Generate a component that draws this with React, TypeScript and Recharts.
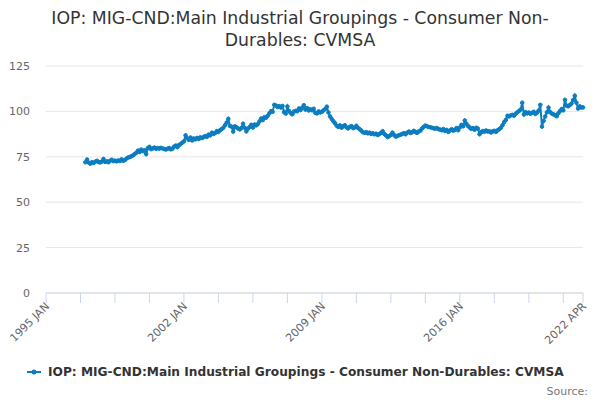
import { LineChart, Line, XAxis, YAxis, CartesianGrid } from 'recharts'

// monthly index: 0 = 1995 JAN
const startMonth = 24 // 1997 JAN
const values = [
  // 1997
  72.0, 73.5, 71.8, 71.2, 72.0, 71.6, 72.3, 72.8, 72.1, 71.9, 72.4, 73.8,
  // 1998
  72.2, 72.5, 72.0, 72.8, 73.4, 72.6, 72.9, 72.5, 73.0, 72.7, 73.6, 72.8,
  // 1999
  73.2, 74.0, 74.6, 74.9, 75.3, 75.8, 76.5, 77.2, 78.4, 77.6, 79.0, 78.1,
  // 2000
  78.6, 76.5, 79.8, 80.5, 79.2, 79.6, 80.1, 79.4, 79.8, 79.5, 79.9, 79.6,
  // 2001
  79.3, 79.0, 79.4, 79.8, 79.1, 79.5, 80.6, 81.2, 80.3, 81.5, 82.0, 82.8,
  // 2002
  83.5, 86.8, 85.2, 84.3, 85.6, 84.0, 85.1, 84.6, 85.4, 84.8, 85.7, 85.3,
  // 2003
  85.9, 86.4, 86.0, 87.2, 86.8, 88.3, 87.6, 88.1, 89.2, 88.7, 89.6, 90.3,
  // 2004
  91.0, 92.4, 93.8, 95.9, 92.0, 91.6, 88.9, 91.8, 91.2, 90.6, 90.1, 90.9,
  // 2005
  93.2, 91.0, 89.0, 90.5, 91.4, 92.6, 91.1, 92.8, 92.3, 93.0, 94.5, 96.1,
  // 2006
  95.2, 96.8, 96.5, 97.6, 98.9, 100.1, 99.8, 103.6, 103.2, 102.4, 102.9, 102.1,
  // 2007
  103.0, 99.6, 98.8, 102.7, 100.2, 99.1, 98.4, 99.9, 100.3, 100.1, 101.6, 100.8,
  // 2008
  102.0, 103.4, 101.0, 101.8, 100.5, 101.2, 100.6, 101.5, 99.2, 98.9, 100.0, 99.4,
  // 2009
  99.8, 100.6, 101.3, 102.6, 99.4, 97.2, 95.8, 94.6, 93.5, 92.1, 91.4, 92.3,
  // 2010
  91.0, 91.8, 92.4, 91.2, 90.6, 91.5, 91.9, 90.8, 91.2, 92.1, 90.9, 90.2,
  // 2011
  89.4, 88.5, 88.2, 88.6, 87.9, 88.3, 87.6, 88.0, 87.4, 87.7, 87.0, 87.5,
  // 2012
  88.2, 89.1, 87.6, 86.8, 85.9, 86.4, 87.1, 88.3, 87.0, 86.1, 86.5, 86.9,
  // 2013
  87.2, 87.6, 88.0, 87.4, 88.3, 88.9, 88.1, 88.5, 89.3, 88.6, 88.2, 89.0,
  // 2014
  89.4, 90.6, 91.5, 92.2, 91.8, 91.4, 91.3, 91.0, 90.7, 90.5, 90.9, 90.2,
  // 2015
  90.0, 89.6, 90.3, 89.2, 89.8, 88.7, 89.5, 90.2, 89.4, 89.9, 90.8, 89.6,
  // 2016
  91.2, 92.6, 91.8, 95.0, 93.2, 92.0, 91.1, 90.4, 90.8, 89.9, 91.0, 90.5,
  // 2017
  87.4, 88.6, 89.2, 88.8, 89.5, 88.9, 89.1, 88.4, 89.0, 89.3, 88.7, 89.6,
  // 2018
  90.2, 91.0, 92.4, 94.1, 95.3, 97.6, 97.2, 97.8, 98.1, 97.6, 98.7, 99.5,
  // 2019
  100.2, 101.0, 104.8, 98.3, 99.6, 98.9, 99.4, 98.7, 99.2, 99.8, 98.6, 99.3,
  // 2020
  100.4, 103.6, 91.6, 94.8, 97.2, 99.5, 102.1, 99.6, 98.8, 98.4, 97.9, 97.3,
  // 2021
  99.0, 100.2, 101.3, 100.6, 106.4, 103.1, 102.8, 103.5, 104.3, 106.2, 108.6, 104.8,
  // 2022
  101.6, 102.8, 102.1, 102.2,
]

const xTicks = [0, 21, 42, 63, 84, 105, 126, 147, 168, 189, 210, 231, 252, 273, 294, 315, 327]
const xLabels: Record<number, string> = { 0: '1995 JAN', 84: '2002 JAN', 168: '2009 JAN', 252: '2016 JAN', 327: '2022 APR' }
const yTicks = [0, 25, 50, 75, 100, 125]

const seriesName = 'IOP: MIG-CND:Main Industrial Groupings - Consumer Non-Durables: CVMSA'
const color = '#0b7dc0'

const data = values.map((v, i) => ({ m: startMonth + i, v }))

function XTick({ x, y, payload }: any) {
  const label = xLabels[payload.value]
  if (!label) return null
  const tx = x + 4
  const ty = y + 2
  return (
    <text x={tx} y={ty} transform={`rotate(-45 ${tx} ${ty})`} textAnchor="end" fill="#666" fontSize={11}>
      {label}
    </text>
  )
}

export default function App() {
  return (
    <div style={{ position: 'absolute', left: 0, top: 0, width: 600, height: 400, background: '#fff', fontFamily: '"DejaVu Sans", sans-serif' }}>
      <div style={{ position: 'absolute', top: 7, left: 0, width: 600, textAlign: 'center', fontSize: 17.3, lineHeight: '22px', color: '#333' }}>
        IOP: MIG-CND:Main Industrial Groupings - Consumer Non-
        <br />
        Durables: CVMSA
      </div>
      <LineChart width={600} height={400} data={data} margin={{ top: 66, right: 17, left: 0, bottom: 57 }}>
        <CartesianGrid vertical={false} stroke="#e6e6e6" />
        <XAxis
          dataKey="m"
          type="number"
          domain={[0, 327]}
          ticks={xTicks}
          interval={0}
          height={50}
          stroke="#ccd6eb"
          tickSize={10}
          tick={<XTick />}
        />
        <YAxis
          domain={[0, 125]}
          ticks={yTicks}
          width={46}
          axisLine={false}
          tickLine={false}
          tickSize={0}
          tickMargin={16}
          tick={{ fill: '#666', fontSize: 11 }}
        />
        <Line
          dataKey="v"
          stroke={color}
          strokeWidth={2}
          dot={{ r: 1.8, fill: color, stroke: color, strokeWidth: 1 }}
          isAnimationActive={false}
        />
      </LineChart>
      <div style={{ position: 'absolute', top: 365, left: 27, display: 'flex', alignItems: 'center', fontSize: 12.2, fontWeight: 'bold', color: '#333', whiteSpace: 'nowrap' }}>
        <svg width={16} height={12} style={{ marginRight: 5 }}>
          <line x1={0} y1={6} x2={14} y2={6} stroke={color} strokeWidth={2} />
          <circle cx={7} cy={6} r={2.5} fill={color} />
        </svg>
        {seriesName}
      </div>
      <div style={{ position: 'absolute', top: 385, right: 12, fontSize: 11, color: '#777' }}>Source:</div>
    </div>
  )
}
